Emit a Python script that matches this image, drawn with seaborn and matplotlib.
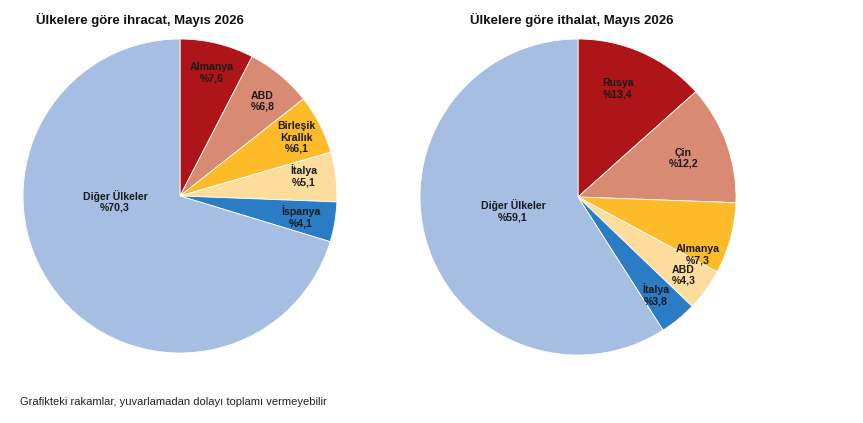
import numpy as np
import matplotlib
matplotlib.use("Agg")
import matplotlib.pyplot as plt
import seaborn as sns

# Export shares (%), May 2026
exp_labels = ["Almanya", "ABD", "Birleşik\nKrallık", "İtalya", "İspanya", "Diğer Ülkeler"]
exp_values = [7.6, 6.8, 6.1, 5.1, 4.1, 70.3]

# Import shares (%), May 2026
imp_labels = ["Rusya", "Çin", "Almanya", "ABD", "İtalya", "Diğer Ülkeler"]
imp_values = [13.4, 12.2, 7.3, 4.3, 3.8, 59.1]

exp_colors = ["#AE1519", "#D98A73", "#FDBB29", "#FEDC9C", "#2A7DC4", "#A6BEE1"]
imp_colors = ["#AE1519", "#D98A73", "#FDBB29", "#FEDC9C", "#2A7DC4", "#A6BEE1"]

# label placement: (radius fraction, angle offset from wedge middle in degrees)
exp_pos = [(0.81, -1), (0.80, -1.5), (0.83, -0.6), (0.80, 2.2), (0.78, -0.4), (0.415, -32)]
imp_pos = [(0.73, 3.8), (0.71, 0.3), (0.84, -10.5), (0.83, -0.6), (0.79, -1.1), (0.42, -4.5)]

sns.set_theme(style="white")
plt.rcParams['font.family'] = ['Liberation Sans', 'DejaVu Sans']

fig = plt.figure(figsize=(8.63, 4.23), dpi=100)
ax1 = fig.add_axes([23 / 863, 70 / 423, 314 / 863, 314 / 423])
ax2 = fig.add_axes([420 / 863, 68 / 423, 316 / 863, 316 / 423])


def draw_pie(ax, values, labels, colors, pos):
    wedges, _ = ax.pie(values, colors=colors, startangle=90, counterclock=False,
                       wedgeprops=dict(edgecolor="white", linewidth=0.6))
    for w, lab, val, (r, off) in zip(wedges, labels, values, pos):
        ang = np.deg2rad((w.theta1 + w.theta2) / 2 + off)
        ax.text(r * np.cos(ang), r * np.sin(ang), f"{lab}\n%{str(val).replace('.', ',')}",
                ha="center", va="center", fontsize=7.6, fontweight="bold",
                color="#1a1a1a", linespacing=1.15)
    ax.set_xlim(-1, 1)
    ax.set_ylim(-1, 1)
    ax.set_aspect("equal")
    ax.axis("off")


draw_pie(ax1, exp_values, exp_labels, exp_colors, exp_pos)
draw_pie(ax2, imp_values, imp_labels, imp_colors, imp_pos)

fig.text(36 / 863, 1 - 20 / 423, "Ülkelere göre ihracat, Mayıs 2026", ha="left", va="center",
         fontsize=9.5, fontweight="bold", color="#111111")
fig.text(470 / 863, 1 - 20 / 423, "Ülkelere göre ithalat, Mayıs 2026", ha="left", va="center",
         fontsize=9.5, fontweight="bold", color="#111111")
fig.text(20 / 863, 1 - 402 / 423, "Grafikteki rakamlar, yuvarlamadan dolayı toplamı vermeyebilir",
         ha="left", va="center", fontsize=8.0, color="#222222")

fig.savefig("out.png", dpi=100)
